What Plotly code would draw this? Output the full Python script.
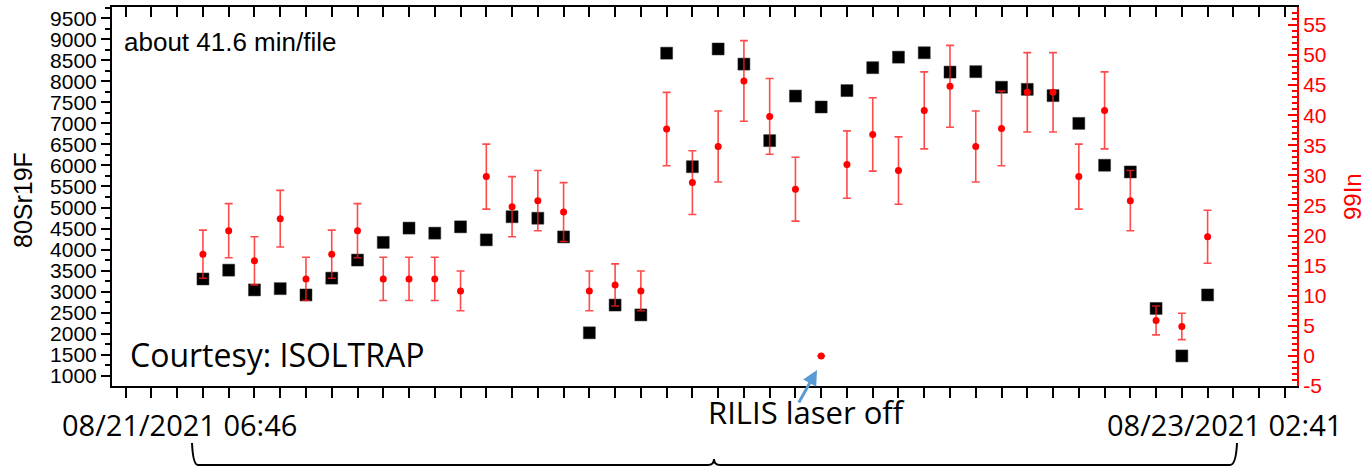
import plotly.graph_objects as go

# ---------------- data ----------------
file_index = list(range(40))

sr19f_counts = [3300, 3510, 3040, 3070, 2920, 3320, 3750, 4170, 4510, 4390,
                4540, 4230, 4780, 4745, 4300, 2020, 2680, 2445, 8670, 5970,
                8770, 8410, 6590, 7650, 7390, 7780, 8325, 8575, 8680, 8220,
                8230, 7860, 7810, 7660, 7000, 6005, 5845, 2600, 1470, 2920]

in99_counts = [16.9, 20.8, 15.8, 22.8, 12.8, 16.9, 20.8, 12.8, 12.8, 12.8,
               10.8, 29.8, 24.8, 25.8, 23.9, 10.8, 11.8, 10.8, 37.7, 28.8,
               34.8, 45.7, 39.8, 27.7, 0.0, 31.8, 36.8, 30.8, 40.8, 44.8,
               34.8, 37.8, 43.8, 43.8, 29.8, 40.8, 25.8, 5.9, 4.9, 19.8]

in99_errors = [4.0, 4.5, 4.0, 4.7, 3.6, 4.0, 4.5, 3.6, 3.6, 3.6,
               3.3, 5.4, 5.0, 5.0, 4.9, 3.3, 3.5, 3.3, 6.1, 5.3,
               5.9, 6.7, 6.3, 5.3, 0.0, 5.6, 6.1, 5.6, 6.4, 6.8,
               5.9, 6.2, 6.6, 6.6, 5.4, 6.4, 5.0, 2.4, 2.2, 4.4]

sr19f_errors = [40] * 40

left_ticks = list(range(1000, 10000, 500))
right_ticks = list(range(-5, 60, 5))

# ---------------- layout geometry ----------------
W, H = 1365, 472
L, R, T, B = 112, 68, 7, 86
PW, PH = W - L - R, H - T - B


def px(xp):
    return (xp - L) / PW


def py(yp):
    return (H - B - yp) / PH


fig = go.Figure()

fig.add_trace(go.Scatter(
    x=file_index, y=sr19f_counts, mode="markers",
    marker=dict(symbol="square", size=12, color="black",
                line=dict(width=0.5, color="#333")),
    error_y=dict(type="data", array=sr19f_errors, color="black",
                 thickness=1.5, width=5),
    xaxis="x", yaxis="y", showlegend=False, name="80Sr19F"))

fig.add_trace(go.Scatter(
    x=file_index, y=in99_counts, mode="markers",
    marker=dict(symbol="circle", size=7, color="red"),
    error_y=dict(type="data", array=in99_errors, color="rgba(255,30,30,0.8)",
                 thickness=1.6, width=4),
    xaxis="x", yaxis="y2", showlegend=False, name="99In"))

# invisible trace so the top mirror axis is drawn
fig.add_trace(go.Scatter(
    x=file_index, y=sr19f_counts, mode="markers",
    marker=dict(opacity=0), xaxis="x2", yaxis="y",
    showlegend=False, hoverinfo="skip"))

xr = [-3.53, 42.47]
tick_font = dict(family="Liberation Sans, Arial", size=21, color="black")

fig.update_layout(
    width=W, height=H,
    margin=dict(l=L, r=R, t=T, b=B),
    paper_bgcolor="white", plot_bgcolor="white",
    xaxis=dict(range=xr, tick0=0, dtick=1, ticks="outside", ticklen=10,
               tickwidth=2, tickcolor="black", showticklabels=False,
               showline=True, linecolor="black", linewidth=2,
               showgrid=False, zeroline=False),
    xaxis2=dict(range=xr, overlaying="x", side="top", tick0=0, dtick=1,
                ticks="inside", ticklen=10, tickwidth=2, tickcolor="black",
                showticklabels=False, showline=True, linecolor="black",
                linewidth=2, showgrid=False, zeroline=False),
    yaxis=dict(range=[755, 9768], tickvals=left_ticks,
               ticktext=[str(v) for v in left_ticks],
               ticks="outside", ticklen=9, tickwidth=2, tickcolor="black",
               minor=dict(dtick=250, tick0=0, ticks="outside", ticklen=5,
                          tickwidth=1.5, tickcolor="black", showgrid=False),
               tickfont=tick_font, showline=True, linecolor="black",
               linewidth=2, showgrid=False, zeroline=False,
               automargin=False),
    yaxis2=dict(range=[-5, 57.98], overlaying="y", side="right",
                tickvals=right_ticks, ticktext=[str(v) for v in right_ticks],
                ticks="inside", ticklen=9, tickwidth=2, tickcolor="red",
                minor=dict(dtick=1, tick0=0, ticks="inside", ticklen=5,
                           tickwidth=1.5, tickcolor="red", showgrid=False),
                tickfont=dict(family="Liberation Sans, Arial", size=21,
                              color="red"),
                showline=True, linecolor="red", linewidth=2,
                showgrid=False, zeroline=False, automargin=False),
)


def label(text, x, y, size, family, color="black", xanchor="center",
          angle=0):
    return dict(text=text, x=px(x), y=py(y), xref="paper", yref="paper",
                xanchor=xanchor, yanchor="middle", showarrow=False,
                textangle=angle,
                font=dict(family=family, size=size, color=color))


ann = [
    label("80Sr19F", 23, 200, 25, "Liberation Sans, Arial", angle=-90),
    label("99In", 1352, 197, 24, "Liberation Sans, Arial", color="red",
          angle=-90),
    label("about 41.6 min/file", 122, 42, 26, "Liberation Sans, Arial",
          xanchor="left"),
    label("Courtesy: ISOLTRAP", 128, 354, 32, "Open Sans", xanchor="left"),
    label("08/21/2021 06:46", 179, 424, 29, "Open Sans"),
    label("08/23/2021 02:41", 1224, 424, 29, "Open Sans"),
    label("RILIS laser off", 806, 412, 31, "Open Sans"),
    dict(text="", x=px(817), y=py(370), xref="paper", yref="paper",
         showarrow=True, ax=-19, ay=34, axref="pixel", ayref="pixel",
         arrowcolor="#5B9BD5", arrowwidth=3, arrowhead=2,
         arrowsize=1, standoff=0),
]
fig.update_layout(annotations=ann)

# curly brace under the axis
pts = (f"M {px(192)},{py(443)} Q {px(193)},{py(465)} {px(198)},{py(465)} "
       f"L {px(708)},{py(465)} Q {px(714)},{py(465)} {px(714)},{py(459)} "
       f"Q {px(714)},{py(465)} {px(720)},{py(465)} "
       f"L {px(1230)},{py(465)} Q {px(1236)},{py(465)} {px(1237)},{py(443)}")
fig.add_shape(type="path", path=pts, xref="paper", yref="paper",
              line=dict(color="black", width=2))

fig.write_html(
    "out.html",
    config={"displayModeBar": False},
    post_script="document.body.style.margin='0';"
                "document.body.style.padding='0';"
                "document.body.style.overflow='hidden';")
